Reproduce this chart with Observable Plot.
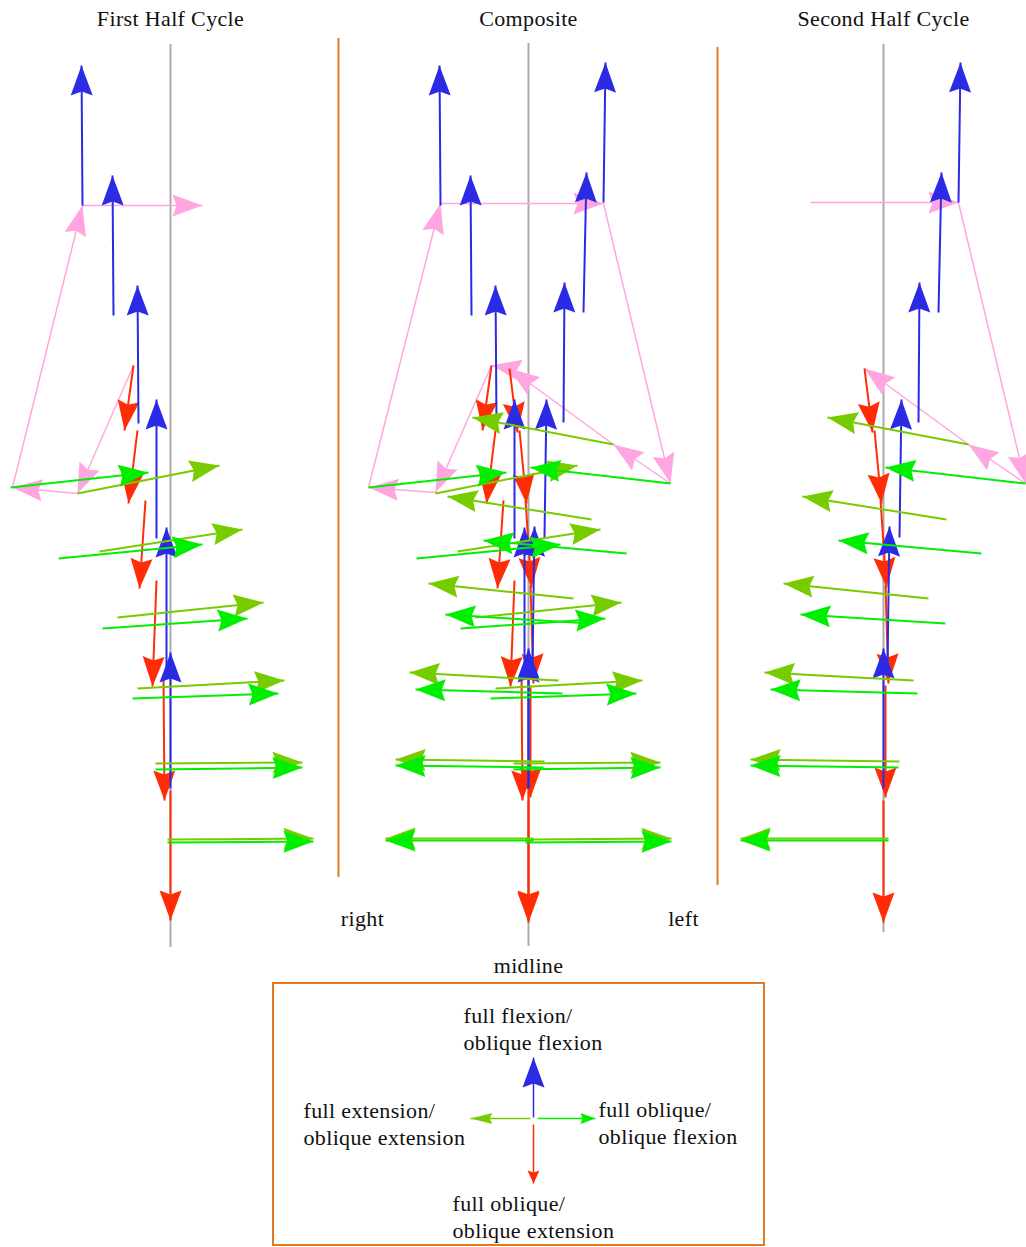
<!DOCTYPE html>
<html>
<head>
<meta charset="utf-8">
<script src="https://cdn.jsdelivr.net/npm/d3@7"></script>
<script src="https://cdn.jsdelivr.net/npm/@observablehq/plot@0.6"></script>
<style>
  html, body { margin: 0; padding: 0; background: #fff; }
  #chart svg { display: block; }
</style>
</head>
<body>
<div id="chart"></div>
<script>
// ---------------------------------------------------------------------------
// Data: movement vectors [x1, y1, x2, y2]; x is measured from the panel's own
// midline (negative = right side of the body), y runs downward by level.
// ---------------------------------------------------------------------------
const panelNames = ["First Half Cycle", "Composite", "Second Half Cycle"];
const sideLabels = ["right", "left"];
const midlineLabel = "midline";
const keyLabels = [
  "full flexion/\noblique flexion",
  "full extension/\noblique extension",
  "full oblique/\noblique flexion",
  "full oblique/\noblique extension"
];

// First half cycle
const firstFlexion = [
  [-88, 205, -89, 65],
  [-57, 315, -58, 175],
  [-32, 423, -33, 285],
  [-14, 538, -14, 399],
  [-4, 666, -4, 527],
  [0, 788, 0, 652]
];
const firstObliqueExtension = [
  [-37, 365, -46, 430],
  [-33, 430, -42, 503],
  [-25, 500, -31, 588],
  [-14, 580, -18, 686],
  [-7, 677, -6, 800],
  [0, 790, 0, 920]
];
const firstObliqueFlexion = [
  [-160, 487, -22, 472],
  [-112, 558, 32, 544],
  [-68, 628, 77, 618],
  [-38, 698, 108, 693],
  [-15, 769, 132, 767],
  [-3, 842, 143, 841]
];
const firstExtension = [
  [-93, 493, 49, 465],
  [-71, 551, 72, 529],
  [-53, 617, 93, 602],
  [-33, 688, 114, 680],
  [-15, 763, 132, 762],
  [-3, 839, 143, 838]
];
const firstPath = [[-37, 365], [-93, 493], [-158, 487], [-88, 205], [32, 205]];

// Second half cycle
const secondFlexion = [
  [75, 202, 77, 62],
  [55, 312, 58, 172],
  [35, 422, 36, 282],
  [16, 537, 18, 399],
  [4, 665, 6, 526],
  [0, 788, 0, 648]
];
const secondObliqueExtension = [
  [-19, 368, -11, 432],
  [-9, 430, -2, 503],
  [-3, 500, 3, 587],
  [2, 585, 5, 683],
  [2, 685, 2, 797],
  [0, 800, 0, 922]
];
const secondObliqueFlexion = [
  [142, 483, 2, 467],
  [98, 553, -45, 540],
  [62, 623, -83, 614],
  [34, 693, -113, 689],
  [15, 767, -133, 765],
  [5, 840, -143, 840]
];
const secondExtension = [
  [85, 444, -56, 417],
  [63, 519, -81, 496],
  [45, 598, -100, 583],
  [30, 680, -119, 672],
  [16, 761, -133, 759],
  [5, 838, -143, 838]
];
const secondPath = [[-73, 202], [75, 202], [142, 483], [85, 444], [-19, 368]];

// Composite cycle: joins the starting points of both halves
const compositePath = [[-37, 365], [-93, 492], [-160, 487], [-88, 203], [75, 203],
                       [142, 483], [85, 444], [-19, 368], [-37, 365]];

// ---------------------------------------------------------------------------
// Layout (x units from the composite midline, y units from the top)
// ---------------------------------------------------------------------------
const panelX = {first: -358, composite: 0, second: 355};
const panelOrder = ["first", "composite", "second"];
const midlineSpan = {first: [44, 947], composite: [43, 946], second: [44, 932]};
const dividers = [{x: -190, y1: 38, y2: 877}, {x: 189, y1: 47, y2: 885}];
const sideLabelPos = [{x: -166, y: 918}, {x: 155, y: 918}];
const keyBox = {x1: -255, x2: 236, y1: 983, y2: 1245};
const keyTextPos = [{x: -65, y: 1027}, {x: -225, y: 1122}, {x: 70, y: 1121}, {x: -76, y: 1215.5}];

const colors = {
  flexion: "#2b2be6",
  obliqueExtension: "#ff2c06",
  obliqueFlexion: "#00ee00",
  extension: "#77cc00",
  path: "#ffa6e0",
  midline: "#ababab",
  divider: "#e07b22",
  text: "#111"
};
const font = "'Liberation Serif', 'Times New Roman', serif";

// ---------------------------------------------------------------------------
// Helpers
// ---------------------------------------------------------------------------
const place = (list, panel) =>
  list.map(([x1, y1, x2, y2]) => ({X1: panelX[panel] + x1, y1, X2: panelX[panel] + x2, y2}));
const chain = (points, panel) =>
  d3.pairs(points).map(([[x1, y1], [x2, y2]]) => ({X1: panelX[panel] + x1, y1, X2: panelX[panel] + x2, y2}));

// Filled, notched arrowhead drawn pointing up from the base (0,0) to the tip (0,-l)
const tip = (half, notch) => ({
  draw(context, l) {
    context.moveTo(0, -l);
    context.lineTo(half, 0);
    context.lineTo(0, -notch);
    context.lineTo(-half, 0);
    context.closePath();
  }
});
const bearing = (d) => Math.atan2(d.X2 - d.X1, d.y1 - d.y2) * 180 / Math.PI;

function arrows(data, color, {width = 2, head = 30, half = 11, notch = 4} = {}) {
  return [
    Plot.link(data, {x1: "X1", y1: "y1", x2: "X2", y2: "y2", stroke: color, strokeWidth: width}),
    Plot.vector(data, {
      x: "X2", y: "y2", rotate: bearing, length: head, anchor: "end",
      shape: tip(half, notch), fill: color, stroke: "none"
    })
  ];
}

// Layers, drawn per movement type across all three panels
const pathLayer = [...chain(firstPath, "first"), ...chain(compositePath, "composite"), ...chain(secondPath, "second")];
const both = (first, second) => [
  ...place(first, "first"), ...place(first, "composite"),
  ...place(second, "composite"), ...place(second, "second")
];
const redLayer = both(firstObliqueExtension, secondObliqueExtension);
const blueLayer = both(firstFlexion, secondFlexion);
const yellowLayer = both(firstExtension, secondExtension);
const greenLayer = both(firstObliqueFlexion, secondObliqueFlexion);

// Key arrows radiating from a common centre
const keyArrows = {
  flexion: [{X1: 5, y1: 1117, X2: 5, y2: 1057}],
  obliqueExtension: [{X1: 5, y1: 1124, X2: 5, y2: 1183}],
  obliqueFlexion: [{X1: 9, y1: 1118, X2: 67, y2: 1118}],
  extension: [{X1: 2, y1: 1118, X2: -58, y2: 1118}]
};

const chart = Plot.plot({
  width: 1026,
  height: 1247,
  margin: 0,
  x: {domain: [-528, 498], range: [0, 1026], axis: null},
  y: {domain: [0, 1247], range: [0, 1247], axis: null},
  style: {fontFamily: font, background: "#fff", letterSpacing: "0.35px"},
  marks: [
    // panel midlines and dividers
    Plot.ruleX(panelOrder, {
      x: (p) => panelX[p], y1: (p) => midlineSpan[p][0], y2: (p) => midlineSpan[p][1],
      stroke: colors.midline, strokeWidth: 2
    }),
    Plot.ruleX(dividers, {x: "x", y1: "y1", y2: "y2", stroke: colors.divider, strokeWidth: 2}),

    // movement vectors
    ...arrows(pathLayer, colors.path, {width: 1.5}),
    ...arrows(redLayer, colors.obliqueExtension),
    ...arrows(blueLayer, colors.flexion),
    ...arrows(yellowLayer, colors.extension),
    ...arrows(greenLayer, colors.obliqueFlexion),

    // headings and side labels
    Plot.text(panelNames, {
      x: (d, i) => panelX[panelOrder[i]], y: () => 18, text: (d) => d,
      fontSize: 22, fontFamily: font, fill: colors.text
    }),
    Plot.text(sideLabels, {
      x: (d, i) => sideLabelPos[i].x, y: (d, i) => sideLabelPos[i].y, text: (d) => d,
      fontSize: 22, fontFamily: font, fill: colors.text
    }),
    Plot.text([midlineLabel], {
      x: () => panelX.composite, y: () => 965, text: (d) => d,
      fontSize: 22, fontFamily: font, fill: colors.text
    }),

    // key
    Plot.rect([keyBox], {x1: "x1", x2: "x2", y1: "y1", y2: "y2", fill: "none", stroke: colors.divider, strokeWidth: 2}),
    ...arrows(keyArrows.extension, colors.extension, {width: 1.5, head: 22, half: 5.5, notch: 3}),
    ...arrows(keyArrows.obliqueFlexion, colors.obliqueFlexion, {width: 1.5, head: 15, half: 5.5, notch: 2}),
    ...arrows(keyArrows.obliqueExtension, colors.obliqueExtension, {width: 1.5, head: 13, half: 6, notch: 2}),
    ...arrows(keyArrows.flexion, colors.flexion, {width: 1.5, head: 30, half: 11, notch: 4}),
    Plot.text(keyLabels, {
      x: (d, i) => keyTextPos[i].x, y: (d, i) => keyTextPos[i].y, text: (d) => d,
      textAnchor: "start", lineAnchor: "middle", lineHeight: 1.23,
      fontSize: 22, fontFamily: font, fill: colors.text
    })
  ]
});

document.getElementById("chart").appendChild(chart);
</script>
</body>
</html>
